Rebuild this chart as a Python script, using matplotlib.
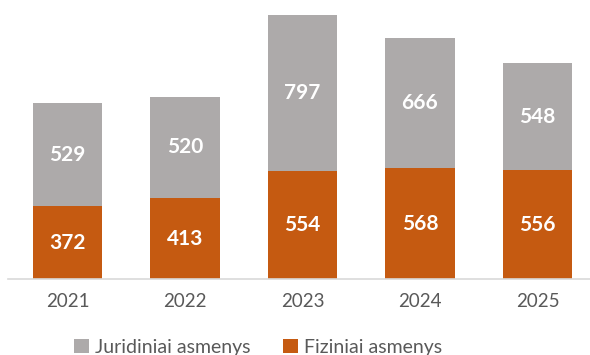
import numpy as np
import matplotlib.pyplot as plt

# yearly counts by person type
years = ['2021', '2022', '2023', '2024', '2025']
fiziniai = [372, 413, 554, 568, 556]
juridiniai = [529, 520, 797, 666, 548]

gray = '#ADAAAA'
orange = '#C55A11'

plt.rcParams['font.family'] = ['Lato', 'DejaVu Sans']

fig = plt.figure(figsize=(5.9, 3.55), dpi=100)
ax = fig.add_axes([8 / 590, 76 / 355, 582 / 590, 264 / 355])

x = np.arange(len(years))
w = 0.59
b1 = ax.bar(x, fiziniai, w, color=orange, label='Fiziniai asmenys', zorder=2)
b2 = ax.bar(x, juridiniai, w, bottom=fiziniai, color=gray,
            label='Juridiniai asmenys', zorder=2)

# value labels in the middle of each segment
for bars in (b1, b2):
    ax.bar_label(bars, label_type='center', color='white',
                 fontsize=15, fontweight='bold')

ax.set_xlim(-0.506, 4.447)
ax.set_ylim(0, 1351)
ax.set_xticks(x)
ax.set_xticklabels(years, fontsize=13.5, color='#595959')
ax.tick_params(axis='x', length=0, pad=10)
ax.set_yticks([])
for s in ['top', 'left', 'right']:
    ax.spines[s].set_visible(False)
ax.spines['bottom'].set_color('#D9D9D9')
ax.spines['bottom'].set_linewidth(1.2)

handles = [b2, b1]
fig.legend(handles, [h.get_label() for h in handles], loc='center',
           bbox_to_anchor=(258 / 590, 8 / 355), ncol=2, frameon=False,
           fontsize=14, labelcolor='#595959', handlelength=0.75,
           handleheight=0.75, handletextpad=0.3, columnspacing=1.7)

fig.savefig('out.png', dpi=100)
